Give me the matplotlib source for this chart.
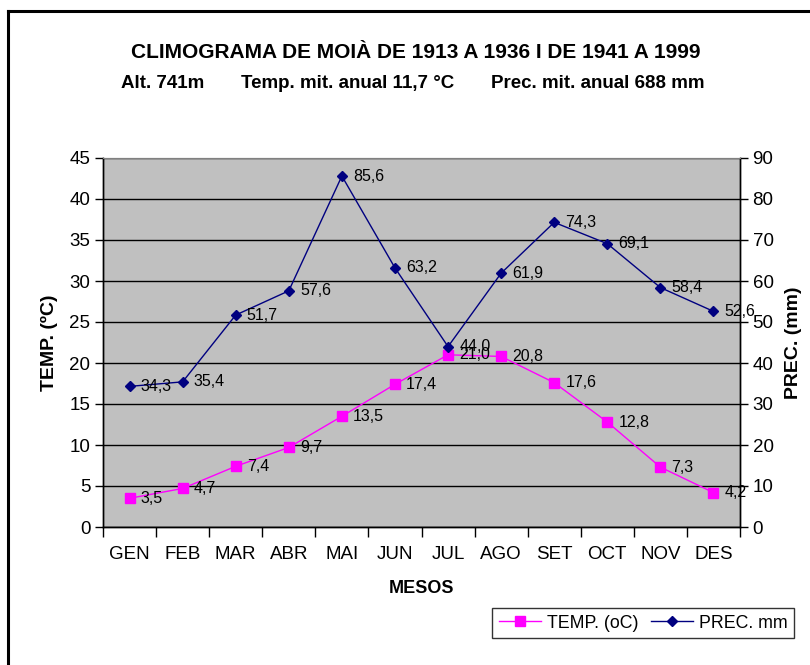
import matplotlib
matplotlib.use('Agg')
import matplotlib.pyplot as plt
from matplotlib.lines import Line2D
import numpy as np

plt.rcParams['font.family'] = ['Liberation Sans', 'DejaVu Sans']

months = ['GEN', 'FEB', 'MAR', 'ABR', 'MAI', 'JUN', 'JUL', 'AGO', 'SET', 'OCT', 'NOV', 'DES']
temp = [3.5, 4.7, 7.4, 9.7, 13.5, 17.4, 21.0, 20.8, 17.6, 12.8, 7.3, 4.2]
prec = [34.3, 35.4, 51.7, 57.6, 85.6, 63.2, 44.0, 61.9, 74.3, 69.1, 58.4, 52.6]
temp_ticks = list(range(0, 50, 5))
prec_ticks = list(range(0, 100, 10))

fig = plt.figure(figsize=(8.1, 6.65), dpi=100)
ax = fig.add_axes([103 / 810, 1 - 527 / 665, 637 / 810, 369 / 665])
ax2 = ax.twinx()

x = np.arange(len(months))

# background + grid
ax.set_facecolor('#C0C0C0')
ax.set_ylim(0, 45)
ax.set_yticks(temp_ticks)
ax.yaxis.grid(True, color='black', linewidth=1)
ax.set_axisbelow(True)
ax2.set_ylim(0, 90)
ax2.set_yticks(prec_ticks)

ax.set_xlim(-0.5, len(months) - 0.5)
ax.set_xticks(np.arange(-0.5, len(months)), labels=[''] * (len(months) + 1))
ax.set_xticks(x, labels=months, minor=True)
ax.tick_params(axis='x', which='major', length=7, width=1)
ax.tick_params(axis='x', which='minor', length=0, pad=14, labelsize=13.5)
ax.tick_params(axis='y', length=6, width=1, labelsize=13.5, pad=3)
ax2.tick_params(axis='y', length=6, width=1, labelsize=13.5, pad=3)

for a in (ax, ax2):
    a.spines['top'].set_color('#808080')
    for s in ('left', 'right', 'bottom'):
        a.spines[s].set_linewidth(1)

# series
ax.plot(x, temp, color='#FF00FF', marker='s', markersize=7, linewidth=1, zorder=3)
ax2.plot(x, prec, color='#000080', marker='D', markersize=5.5, linewidth=1, zorder=3)

for i, v in enumerate(temp):
    ax.annotate(f'{v:.1f}'.replace('.', ','), (i, v), xytext=(8, 0),
                textcoords='offset points', va='center', fontsize=11.5, zorder=4)
for i, v in enumerate(prec):
    ax2.annotate(f'{v:.1f}'.replace('.', ','), (i, v), xytext=(8, 0),
                 textcoords='offset points', va='center', fontsize=11.5, zorder=4)

ax.set_ylabel('TEMP. (ºC)', fontsize=14, fontweight='bold', labelpad=8)
ax2.set_ylabel('PREC. (mm)', fontsize=14, fontweight='bold', labelpad=8)
ax.set_xlabel('MESOS', fontsize=13, fontweight='bold', labelpad=12)

fig.text(0.513, 1 - 52 / 665, 'CLIMOGRAMA DE MOIÀ DE 1913 A 1936 I DE 1941 A 1999',
         ha='center', va='center', fontsize=15, fontweight='bold')
fig.text(0.509, 1 - 83 / 665,
         'Alt. 741m       Temp. mit. anual 11,7 °C       Prec. mit. anual 688 mm',
         ha='center', va='center', fontsize=13.5, fontweight='bold')

handles = [
    Line2D([], [], color='#FF00FF', marker='s', markersize=7, linewidth=1),
    Line2D([], [], color='#000080', marker='D', markersize=5.5, linewidth=1),
]
leg = fig.legend(handles, ['TEMP. (oC)', 'PREC. mm'], loc='center',
                 bbox_to_anchor=(643 / 810, 1 - 623 / 665), ncol=2, fontsize=12.8,
                 frameon=True, fancybox=False, edgecolor='black', handlelength=2.4,
                 handletextpad=0.3, columnspacing=0.7, borderpad=0.35)
leg.get_frame().set_linewidth(1)

# outer border (left and top)
fig.add_artist(Line2D([8 / 810, 8 / 810], [0, 1 - 11 / 665], color='black',
                      linewidth=2.2, transform=fig.transFigure))
fig.add_artist(Line2D([8 / 810, 1], [1 - 11 / 665, 1 - 11 / 665], color='black',
                      linewidth=2.2, transform=fig.transFigure))

fig.savefig('out.png', dpi=100)
